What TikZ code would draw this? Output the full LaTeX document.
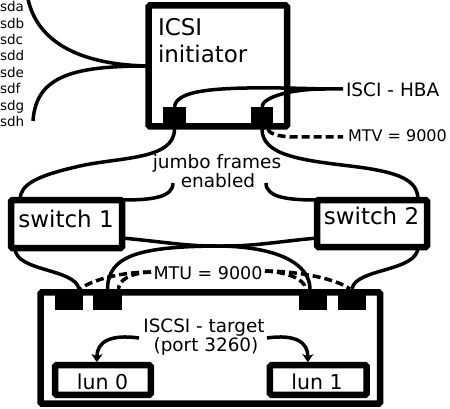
\documentclass[tikz,border=0pt]{standalone}
\usepackage{fontspec}
\setmainfont{DejaVu Sans}
\usetikzlibrary{arrows.meta,calc}
\begin{document}
\begin{tikzpicture}[x=1pt,y=-1pt,
  box/.style={draw, line width=6.5pt, inner sep=0pt, outer sep=0pt, rounded corners=1.5pt},
  port/.style={fill=black, draw=none, inner sep=0pt, outer sep=0pt},
  wire/.style={line width=3.5pt},
  dwire/.style={line width=3.5pt, dash pattern=on 8pt off 4pt},
  lbl/.style={inner sep=0pt, outer sep=0pt, anchor=base},
  lblw/.style={inner sep=0pt, outer sep=0pt, anchor=base west},
  arr/.style={-{Stealth[length=8pt,width=11pt,inset=2pt]}}
]
\useasboundingbox (0,0) rectangle (450,409);

% boxes
\node[box, minimum width=138.5pt, minimum height=121pt] (init) at (217.75,66) {};
\node[box, minimum width=111pt, minimum height=48pt] (sw1) at (66.5,224) {};
\node[box, minimum width=110pt, minimum height=47pt] (sw2) at (372,223.5) {};
\node[box, minimum width=339.6pt, minimum height=111.4pt] (tgt) at (210.3,348) {};
\node[box, minimum width=95.7pt, minimum height=29.6pt] (lun0) at (102.9,380) {};
\node[box, minimum width=96.7pt, minimum height=29.6pt] (lun1) at (318.3,380) {};

% ports
\node[port, minimum width=23pt, minimum height=22pt] (ip1) at (174.5,118) {};
\node[port, minimum width=22pt, minimum height=22pt] (ip2) at (262,118) {};
\node[port, minimum width=28pt, minimum height=21pt] (t1) at (69,299.5) {};
\node[port, minimum width=29pt, minimum height=21pt] (t2) at (107.5,299.5) {};
\node[port, minimum width=28pt, minimum height=21pt] (t3) at (313,299.5) {};
\node[port, minimum width=28pt, minimum height=21pt] (t4) at (352,299.5) {};

% labels
\foreach \n [count=\i from 0] in {sda,sdb,sdc,sdd,sde,sdf,sdg,sdh}
  \node[lblw, font=\fontsize{13.5}{13.5}\selectfont] (l\n) at (0,11.7+16.4*\i) {\n};
\node[lblw, font=\fontsize{23}{23}\selectfont] (ticsi) at (158,36) {ICSI};
\node[lblw, font=\fontsize{23}{23}\selectfont] (tinit) at (158,63) {initiator};
\node[lblw, font=\fontsize{18.5}{18.5}\selectfont] (thba) at (346,96.5) {ISCI - HBA};
\node[lblw, font=\fontsize{16}{16}\selectfont] (tmtv) at (348,142) {MTV = 9000};
\node[lbl, font=\fontsize{18.5}{18.5}\selectfont] (tjumbo) at (217,168) {jumbo frames};
\node[lbl, font=\fontsize{18.5}{18.5}\selectfont] (tenab) at (218,187) {enabled};
\node[lbl, font=\fontsize{23}{23}\selectfont] (tsw1) at (66,227) {switch 1};
\node[lbl, font=\fontsize{23}{23}\selectfont] (tsw2) at (371.5,225) {switch 2};
\node[lbl, font=\fontsize{17.5}{17.5}\selectfont] (tmtu) at (208,279) {MTU = 9000};
\node[lbl, font=\fontsize{18.4}{18.4}\selectfont] (ttgt) at (204,332) {ISCSI - target};
\node[lbl, font=\fontsize{18.4}{18.4}\selectfont] (tport) at (206,351) {(port 3260)};
\node[lbl, font=\fontsize{20.5}{20.5}\selectfont] (tl0) at (102.5,389) {lun 0};
\node[lbl, font=\fontsize{20.5}{20.5}\selectfont] (tl1) at (317,389) {lun 1};

% free ends
\coordinate (sdtop) at (28,-1);
\coordinate (sdbot) at (33,121);
\coordinate (hba) at (343,89);
\coordinate (hbaj) at (325,89);
\coordinate (mtv) at (343,137);
\coordinate (jl) at (173,183);
\coordinate (jr) at (266,183);
\coordinate (mtul) at (151,272);
\coordinate (mtur) at (265,271);
\coordinate (al) at (139,338);
\coordinate (ar) at (267,338);

% disks
\draw[wire] (init.west) .. controls (85,65) and (38,45) .. (sdtop);
\draw[wire] (init.west) .. controls (75,66) and (36,75) .. (sdbot);

% HBA
\draw[wire] (hba) -- (hbaj) .. controls (225,86) and (176,88) .. (ip1.north);
\draw[wire] (hbaj) .. controls (288,89) and (262,98) .. (ip2.north);
\draw[dwire] ([xshift=6pt]ip2.south) .. controls (270,136) and (285,137) .. (300,137) -- (mtv);

% initiator to switches
\draw[wire] (ip1.south) .. controls (174.5,160) and (120,157) .. (80,166) .. controls (35,176) and (20,185) .. ([xshift=9pt]sw1.north west);
\draw[wire] (ip2.south) .. controls (262,155) and (300,160) .. (350,166) .. controls (400,172) and (418,180) .. ([xshift=-9pt]sw2.north east);
\draw[wire] (jl) .. controls (173,198) and (150,200) .. (sw1.north east);
\draw[wire] (jr) .. controls (266,198) and (290,200) .. (sw2.north west);

% switches to target
\draw[wire] ([xshift=4pt]sw1.south west) .. controls (15,272) and (75,268) .. ([xshift=10pt]t1.north);
\draw[wire] ([xshift=-9pt]sw2.south east) .. controls (418,272) and (355,268) .. (t4.north);
\draw[wire] ($(sw1.south east)+(0,-10)$) .. controls (165,242) and (185,246) .. (215,246) .. controls (280,246) and (310,265) .. ([xshift=-3pt]t3.north);
\draw[wire] ($(sw2.south west)+(0,-9)$) .. controls (275,242) and (255,246) .. (225,246) .. controls (140,246) and (108,255) .. (t2.north);

% MTU dashed
\draw[dwire] (mtul) .. controls (120,272) and (92,280) .. ([xshift=11pt]t1.north);
\draw[dwire] (mtul) .. controls (130,273) and (119,280) .. ([xshift=11pt]t2.north);
\draw[dwire] (mtur) .. controls (295,271) and (335,278) .. ([xshift=-2pt]t4.north);
\draw[dwire] (mtur) .. controls (285,272) and (304,278) .. ([xshift=-7pt]t3.north);

% arrows to luns
\draw[wire, arr] (al) .. controls (110,334) and (97,342) .. ($(lun0.north)+(-6,-3)$);
\draw[wire, arr] (ar) .. controls (295,334) and (308,342) .. ($(lun1.north)+(-10.5,-3)$);
\end{tikzpicture}
\end{document}
